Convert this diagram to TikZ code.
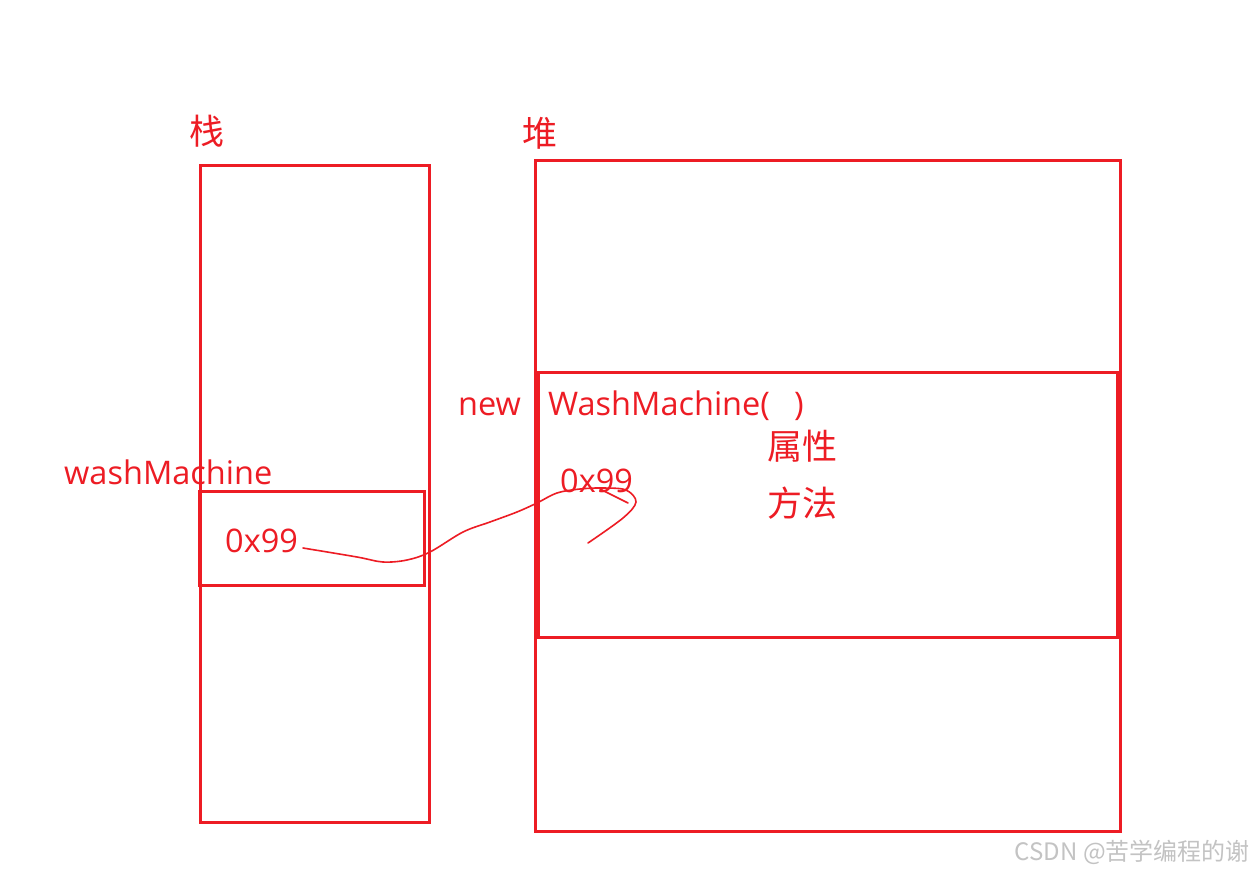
\documentclass[tikz,border=0pt]{standalone}
\usepackage{fontspec}
\setmainfont{Open Sans}
\newfontfamily\cjk{Noto Sans CJK SC}
\definecolor{pen}{RGB}{237,28,36}
\definecolor{mark}{RGB}{195,195,195}
\tikzset{
  box/.style={draw=pen, line width=3pt},
  lat/.style={text=pen, inner sep=0pt, anchor=base west, font=\fontsize{32.5}{36}\selectfont},
  han/.style={text=pen, inner sep=0pt, anchor=center, font=\cjk\fontsize{35}{38}\selectfont},
  ink/.style={draw=pen, line width=1.6pt, line cap=round, line join=round}
}
\begin{document}
\begin{tikzpicture}[x=1pt,y=-1pt]
\useasboundingbox[fill=white] (0,0) rectangle (1255,872);
% stack
\draw[box] (200,165) rectangle (429,822);
\draw[box] (199,491) rectangle (424,585);
% heap
\draw[box] (535,160) rectangle (1120,831);
\draw[box] (538,372) rectangle (1117,637);
% labels
\node[han] (zhan) at (207,131) {栈};
\node[han] (dui) at (540,133) {堆};
\node[lat] (var) at (64,484) {washMachine};
\node[lat] (addr1) at (225,552) {0x99};
\node[lat] (new) at (458,415) {new};
\node[lat] (ctor) at (548,415) {WashMachine(\hspace{4pt}\hspace{20pt})};
\node[lat] (addr2) at (560,492) {0x99};
\node[han] (attr) at (802,446) {属性};
\node[han] (meth) at (802,503) {方法};
\node[text=mark, inner sep=0pt, anchor=east, font=\cjk\fontsize{24}{26}\selectfont] (wm) at (1250,852) {CSDN @苦学编程的谢};
% hand-drawn pointer
\coordinate (s) at (303,548);
\coordinate (e) at (588,543);
\draw[ink] plot[smooth, tension=0.55] coordinates {(s) (357,557) (383,562) (407,560) (430,552) (463,532) (490,522) (517,512) (537,503) (557,493) (580,489) (603,488) (626,490) (636,502) (623,518) (e)};
\draw[ink] (600,489) -- (628,503);
\end{tikzpicture}
\end{document}
